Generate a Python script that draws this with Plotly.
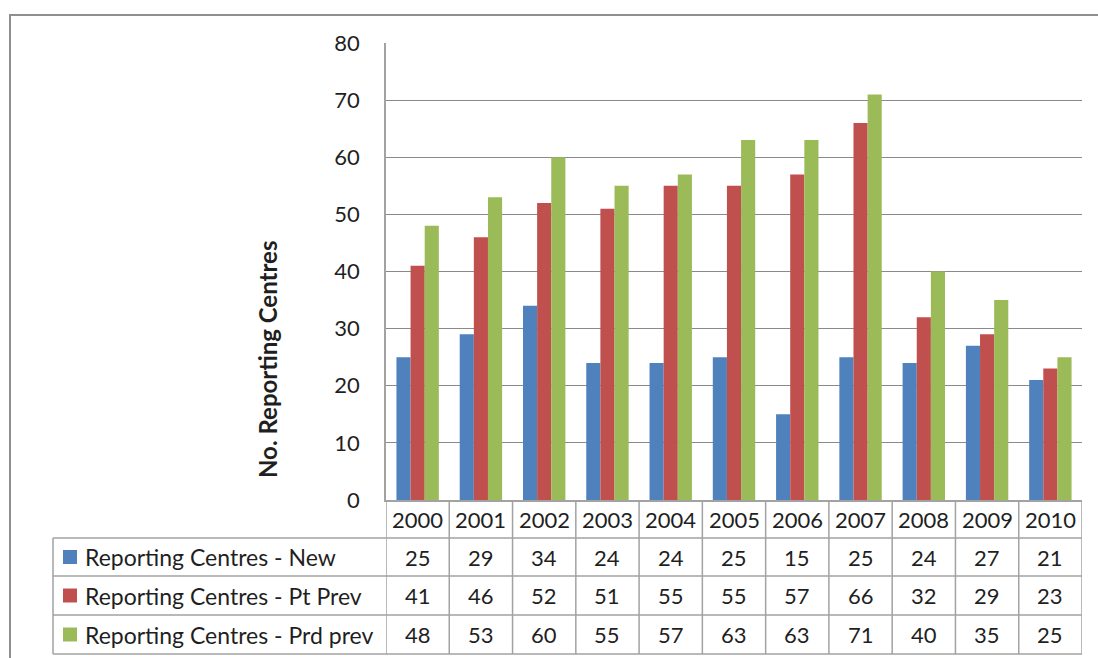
import plotly.graph_objects as go

years = ["2000", "2001", "2002", "2003", "2004", "2005", "2006", "2007", "2008", "2009", "2010"]
series_names = [
    "Reporting Centres - New",
    "Reporting Centres - Pt Prev",
    "Reporting Centres - Prd prev",
]
new_centres = [25, 29, 34, 24, 24, 25, 15, 25, 24, 27, 21]
pt_prev = [41, 46, 52, 51, 55, 55, 57, 66, 32, 29, 23]
prd_prev = [48, 53, 60, 55, 57, 63, 63, 71, 40, 35, 25]
y_ticks = [0, 10, 20, 30, 40, 50, 60, 70, 80]

colors = ["#4F81BD", "#C0504D", "#9BBB59"]
all_series = [new_centres, pt_prev, prd_prev]

W, H = 1098, 658
FONT = "Lato, 'Open Sans', sans-serif"
TEXT = "#1f1f1f"
GRID = "#8a8a8a"
TLINE = "#a2a2a2"


def px(x):
    return x / W


def py(y):
    return 1 - y / H


plot_l, plot_r, plot_t, plot_b = 386, 1082, 43, 500
row_lines = [538, 576, 615, 654]
table_l = 53

fig = go.Figure()
idx = list(range(len(years)))
for name, vals, col in zip(series_names, all_series, colors):
    fig.add_trace(go.Bar(
        x=idx, y=vals, name=name, marker_color=col,
        marker_line_width=0, showlegend=False,
    ))

shapes = []
line = dict(color=TLINE, width=1.5)
# horizontal table rules
for yl in row_lines:
    shapes.append(dict(type="line", xref="paper", yref="paper",
                       x0=px(table_l), x1=px(plot_r), y0=py(yl), y1=py(yl), line=line))
# column rules under the plot
for i in range(len(years) + 1):
    shapes.append(dict(type="line", xref="x", yref="paper",
                       x0=i - 0.5, x1=i - 0.5, y0=py(plot_b), y1=py(row_lines[-1]), line=line))
# left edge of the series-name column
shapes.append(dict(type="line", xref="paper", yref="paper",
                   x0=px(table_l), x1=px(table_l), y0=py(row_lines[0]), y1=py(row_lines[-1]), line=line))
# outer chart frame
shapes.append(dict(type="rect", xref="paper", yref="paper",
                   x0=px(10), x1=1.05, y0=-0.05, y1=py(15),
                   line=dict(color="#8f8f8f", width=2)))

annotations = []
# year header row
for i, yr in enumerate(years):
    annotations.append(dict(xref="x", yref="paper", x=i, y=py((plot_b + row_lines[0]) / 2),
                            text=yr, showarrow=False, xanchor="center", yanchor="middle",
                            font=dict(family=FONT, size=22, color=TEXT)))
# data rows
for r, (name, vals, col) in enumerate(zip(series_names, all_series, colors)):
    yc = (row_lines[r] + row_lines[r + 1]) / 2
    shapes.append(dict(type="rect", xref="paper", yref="paper",
                       x0=px(63), x1=px(77), y0=py(yc - 7), y1=py(yc + 7),
                       fillcolor=col, line=dict(width=0)))
    annotations.append(dict(xref="paper", yref="paper", x=px(83), y=py(yc),
                            text=name, showarrow=False, xanchor="left", yanchor="middle",
                            font=dict(family=FONT, size=23, color=TEXT)))
    for i, v in enumerate(vals):
        annotations.append(dict(xref="x", yref="paper", x=i, y=py(yc),
                                text=str(v), showarrow=False, xanchor="center", yanchor="middle",
                                font=dict(family=FONT, size=22, color=TEXT)))
# axis title
annotations.append(dict(xref="paper", yref="paper", x=px(267), y=py(360),
                        text="<b>No. Reporting Centres</b>", textangle=-90, showarrow=False,
                        xanchor="center", yanchor="middle",
                        font=dict(family=FONT, size=24, color=TEXT)))

fig.update_layout(
    width=W, height=H, autosize=False,
    margin=dict(l=0, r=0, t=0, b=0, pad=0, autoexpand=False),
    paper_bgcolor="white", plot_bgcolor="white",
    barmode="group", bargap=0.33, bargroupgap=0,
    xaxis=dict(domain=[px(plot_l), px(plot_r)], range=[-0.5, len(years) - 0.5],
               showticklabels=False, showgrid=False, zeroline=False, automargin=False,
               showline=True, linecolor=TLINE, linewidth=1.5, ticks=""),
    yaxis=dict(domain=[py(plot_b), py(plot_t)], range=[0, 80], tickvals=y_ticks,
               showgrid=True, gridcolor=GRID, gridwidth=1, zeroline=False, automargin=False,
               showline=True, linecolor=TLINE, linewidth=1.5, ticks="",
               ticklabelstandoff=20,
               tickfont=dict(family=FONT, size=22, color=TEXT)),
    shapes=shapes, annotations=annotations,
)

fig.write_html("out.html")
